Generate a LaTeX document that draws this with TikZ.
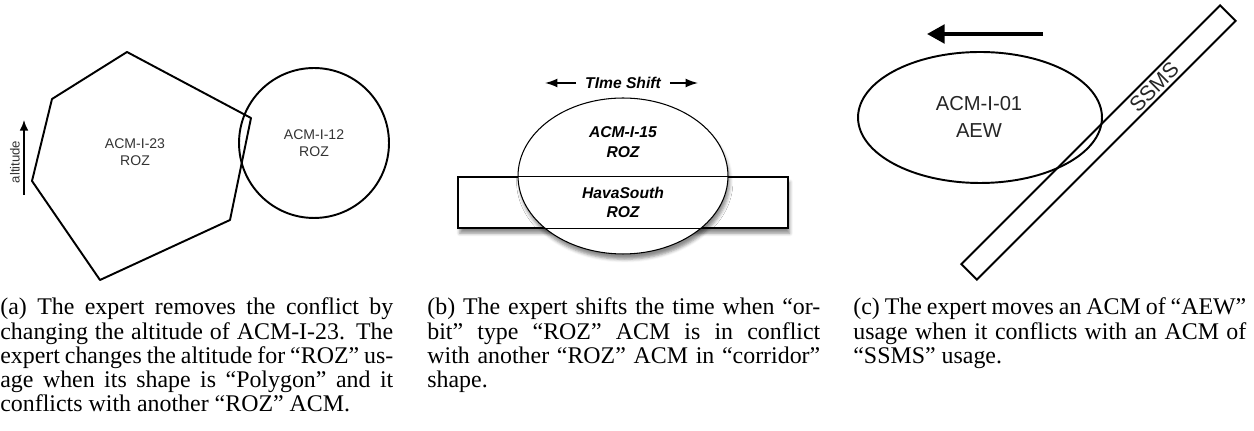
\documentclass[tikz,border=0pt]{standalone}
\usepackage{fontspec}
\setmainfont{Liberation Serif}
\newfontfamily\diagfont{Liberation Sans}
\usetikzlibrary{shapes.geometric,arrows.meta,shadows.blur}

\begin{document}
\begin{tikzpicture}[
    x=0.02cm, y=-0.02cm,
    zone/.style={draw, line width=1.1pt, inner sep=0pt},
    thinzone/.style={draw, line width=0.6pt, inner sep=0pt},
    zonelabel/.style={align=center, text=black!80, font=\diagfont\fontsize{8}{9.6}\selectfont},
    orbitlabel/.style={align=center, font=\diagfont\bfseries\itshape\fontsize{8.9}{11.2}\selectfont},
    biglabel/.style={align=center, text=black!85, font=\diagfont\fontsize{11.5}{15.3}\selectfont},
    caption/.style={anchor=base west, inner sep=0pt, text width=7.86cm, align=justify, font=\fontsize{13.6}{13.75}\selectfont},
    arrow/.style={-{Latex[length=7pt,width=5pt]}, line width=0.8pt}
]
    \useasboundingbox (0,0) rectangle (1254,431);

    % (a)
    \draw[line width=1.1pt, line join=round] (127,52) -- (251,118) -- (230,220) -- (100,280) -- (32,181) -- (52,99) -- cycle;
    \node[zone, circle, minimum size=3cm] (acm12) at (314,143) {};
    \node[zonelabel] (acm23lbl) at (135,152) {ACM-I-23\\ROZ};
    \node[zonelabel] (acm12lbl) at (acm12) {ACM-I-12\\ROZ};
    \coordinate (altlow) at (24,195);
    \coordinate (althigh) at (24,120);
    \draw[-{Latex[length=6pt,width=5pt]}, line width=1pt] (altlow) -- (althigh);
    \node[rotate=90, inner sep=0pt, text=black!80, font=\diagfont\fontsize{7.5}{9}\selectfont] (altlbl) at (15,162) {altitude};

    % (b)
    \node[thinzone, rectangle, fill=white, minimum width=6.6cm, minimum height=1.02cm,
          blur shadow={shadow xshift=1pt, shadow yshift=-3pt, shadow opacity=45}] (hava) at (623,202.5) {};
    \node[thinzone, ellipse, fill=white, minimum width=4.2cm, minimum height=3.12cm,
          blur shadow={shadow xshift=1pt, shadow yshift=-3pt, shadow opacity=45}] (acm15) at (623,176) {};
    \draw[line width=0.6pt] (hava.north west) rectangle (hava.south east);
    \node[orbitlabel] (acm15lbl) at (623,142) {ACM-I-15\\ROZ};
    \node[orbitlabel] (havalbl) at (623,202.5) {HavaSouth\\ROZ};
    \node[inner sep=5pt, font=\diagfont\bfseries\itshape\fontsize{8.9}{11}\selectfont] (shift) at (623,83) {TIme Shift};
    \coordinate (shiftleft) at (545,83);
    \coordinate (shiftright) at (698,83);
    \draw[arrow] (shift.west) -- (shiftleft);
    \draw[arrow] (shift.east) -- (shiftright);

    % (c)
    \node[zone, ellipse, minimum width=4.88cm, minimum height=2.62cm] (acm01) at (980,117.5) {};
    \node[biglabel] (acm01lbl) at (979,117) {ACM-I-01\\AEW};
    \node[zone, rectangle, rotate=45, minimum width=7.32cm, minimum height=0.44cm] (ssms) at (1098.5,142.5) {};
    \node[rotate=45, inner sep=0pt, text=black!85, font=\diagfont\fontsize{12}{12}\selectfont] (ssmslbl) at (1154,87) {SSMS};
    \coordinate (movefrom) at (1043,34);
    \coordinate (moveto) at (927,34);
    \draw[-{Triangle[length=10pt,width=10.5pt]}, line width=2.1pt] (movefrom) -- (moveto);

    % captions
    \node[caption] (capa) at (0,315) {(a) The expert removes the conflict by\linebreak changing the altitude of ACM-I-23. The\linebreak expert changes the altitude for “ROZ” us-\linebreak age when its shape is “Polygon” and it\linebreak conflicts with another “ROZ” ACM.};
    \node[caption] (capb) at (427,315) {(b) The expert shifts the time when “or-\linebreak bit” type “ROZ” ACM is in conflict\linebreak with another “ROZ” ACM in “corridor”\linebreak shape.};
    \node[caption] (capc) at (853,315) {(c) The expert moves an ACM of “AEW”\linebreak usage when it conflicts with an ACM of\linebreak “SSMS” usage.};
\end{tikzpicture}
\end{document}
